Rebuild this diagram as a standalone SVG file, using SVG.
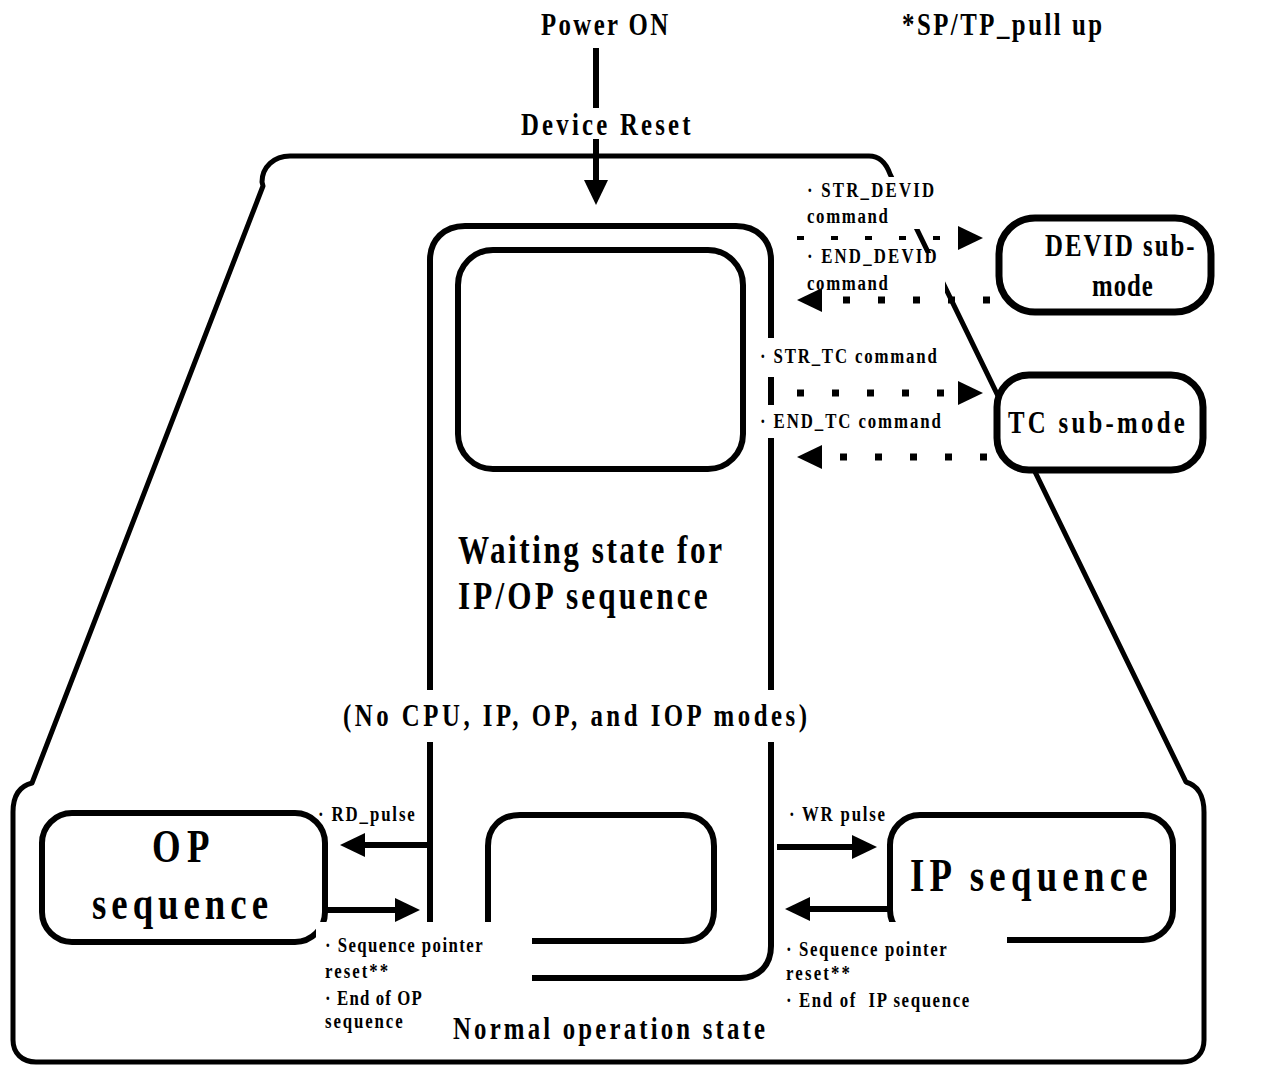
<svg xmlns="http://www.w3.org/2000/svg" xmlns:xlink="http://www.w3.org/1999/xlink" width="1261" height="1066" viewBox="0 0 1261 1066">
  <style>
    text { font-family: "Liberation Serif", "Times New Roman", serif; font-weight: bold; fill: #000; }
    .sm { font-size: 21px; }
    .md { font-size: 31px; }
    .lg { font-size: 39px; }
    .xl { font-size: 46px; }
    .edge { fill: none; stroke: #000; stroke-width: 5; stroke-linejoin: round; }
    .box { fill: #fff; stroke: #000; stroke-width: 6; }
    .sub { fill: #fff; stroke: #000; stroke-width: 7; }
    .wire { fill: none; stroke: #000; stroke-width: 6; }
    .bg { fill: #fff; stroke: none; }
    .dash { fill: none; stroke: #000; stroke-width: 7; stroke-dasharray: 7 28; }
  </style>
  <defs>
    <!-- arrowhead pointing right, tip at origin -->
    <path id="ah" d="M0,0 L-25,-12 L-25,12 Z" fill="#000"/>
  </defs>
  <rect width="1261" height="1066" fill="#fff"/>

  <!-- normal operation state outline -->
  <g id="normal-operation">
    <path class="edge" d="M 290,156 L 869,156 C 879,156 886,163 890,174 L 1186,782 C 1197,785 1204,795 1204,812 L 1204,1040 C 1204,1053 1196,1062 1182,1062 L 36,1062 C 22,1062 13,1053 13,1040 L 13,812 C 13,795 20,786 32,783 L 263,186 L 262,182 C 262,167 274,156 290,156 Z"/>
  </g>

  <!-- waiting state -->
  <g id="waiting-state">
    <path class="box" style="fill:none" d="M 430,922 L 430,260 C 430,240 444,226 465,226 L 736,226 C 757,226 771,240 771,260 L 771,946 C 771,965 759,978 740,978 L 532,978"/>
    <rect class="box" x="458" y="250" width="285" height="219" rx="35" ry="35"/>
    <path class="box" style="fill:none" d="M 488,922 L 488,846 C 488,828 500,815 520,815 L 683,815 C 702,815 714,828 714,846 L 714,910 C 714,929 702,941 683,941 L 532,941"/>
    <text class="lg" transform="translate(458 563) scale(0.8 1)" textLength="330" lengthAdjust="spacing">Waiting state for</text>
    <text class="lg" transform="translate(458 609) scale(0.8 1)" textLength="312" lengthAdjust="spacing">IP/OP sequence</text>
  </g>

  <!-- OP sequence -->
  <g id="op-sequence">
    <rect class="box" x="42" y="813" width="283" height="129" rx="30" ry="30"/>
    <text class="xl" transform="translate(152 862) scale(0.8 1)" textLength="72" lengthAdjust="spacing">OP</text>
    <text class="xl" transform="translate(92 919) scale(0.8 1)" textLength="220" lengthAdjust="spacing">sequence</text>
  </g>

  <!-- IP sequence -->
  <g id="ip-sequence">
    <rect class="box" x="890" y="815" width="283" height="125" rx="30" ry="30"/>
    <text class="xl" transform="translate(910 891) scale(0.8 1)" textLength="297" lengthAdjust="spacing">IP sequence</text>
  </g>

  <!-- label backgrounds that break the outlines -->
  <g id="label-bg">
    <rect class="bg" x="800" y="177" width="140" height="52"/>
    <rect class="bg" x="800" y="253" width="145" height="41"/>
    <rect class="bg" x="765" y="338" width="180" height="39"/>
    <rect class="bg" x="765" y="405" width="180" height="33"/>
    <rect class="bg" x="340" y="690" width="470" height="52"/>
    <rect class="bg" x="316" y="922" width="216" height="110"/>
    <rect class="bg" x="778" y="922" width="229" height="90"/>
  </g>

  <!-- DEVID sub-mode -->
  <g id="devid-submode">
    <rect class="sub" x="999" y="218" width="212" height="94" rx="36" ry="36"/>
    <text class="md" transform="translate(1045 256) scale(0.8 1)" textLength="187" lengthAdjust="spacing">DEVID sub-</text>
    <text class="md" transform="translate(1092 296) scale(0.8 1)" textLength="76" lengthAdjust="spacing">mode</text>
  </g>

  <!-- TC sub-mode -->
  <g id="tc-submode">
    <rect class="sub" x="997" y="375" width="206" height="95" rx="32" ry="32"/>
    <text class="md" transform="translate(1008 433) scale(0.8 1)" textLength="221" lengthAdjust="spacing">TC sub-mode</text>
  </g>

  <!-- connectors -->
  <g id="connectors">
    <rect x="593" y="48" width="6" height="60" fill="#000"/>
    <line class="wire" x1="596" y1="139" x2="596" y2="185"/>
    <use xlink:href="#ah" transform="translate(596 205) rotate(90)"/>

    <line class="dash" style="stroke-width:4;stroke-dasharray:7 27" x1="797" y1="238" x2="958" y2="238"/>
    <use xlink:href="#ah" transform="translate(983 238)"/>
    <line class="dash" x1="843" y1="300" x2="990" y2="300"/>
    <use xlink:href="#ah" transform="translate(797 300) rotate(180)"/>

    <line class="dash" x1="797" y1="393" x2="950" y2="393"/>
    <use xlink:href="#ah" transform="translate(983 393)"/>
    <line class="dash" x1="840" y1="457" x2="990" y2="457"/>
    <use xlink:href="#ah" transform="translate(797 457) rotate(180)"/>

    <line class="wire" x1="430" y1="845" x2="362" y2="845"/>
    <use xlink:href="#ah" transform="translate(340 845) rotate(180)"/>
    <line class="wire" x1="326" y1="910" x2="398" y2="910"/>
    <use xlink:href="#ah" transform="translate(420 910)"/>

    <line class="wire" x1="777" y1="847" x2="855" y2="847"/>
    <use xlink:href="#ah" transform="translate(877 847)"/>
    <line class="wire" x1="890" y1="909" x2="808" y2="909"/>
    <use xlink:href="#ah" transform="translate(785 909) rotate(180)"/>
  </g>

  <!-- labels -->
  <g id="labels">
    <text class="md" transform="translate(541 35) scale(0.8 1)" textLength="159" lengthAdjust="spacing">Power ON</text>
    <text class="md" transform="translate(902 35) scale(0.8 1)" textLength="250" lengthAdjust="spacing">*SP/TP_pull up</text>
    <text class="md" transform="translate(521 135) scale(0.8 1)" textLength="212" lengthAdjust="spacing">Device Reset</text>

    <text class="sm" transform="translate(807 197) scale(0.8 1)" textLength="159" lengthAdjust="spacing">· STR_DEVID</text>
    <text class="sm" transform="translate(807 223) scale(0.8 1)" textLength="101" lengthAdjust="spacing">command</text>
    <text class="sm" transform="translate(807 263) scale(0.8 1)" textLength="162" lengthAdjust="spacing">· END_DEVID</text>
    <text class="sm" transform="translate(807 290) scale(0.8 1)" textLength="101" lengthAdjust="spacing">command</text>
    <text class="sm" transform="translate(760 363) scale(0.8 1)" textLength="221" lengthAdjust="spacing">· STR_TC command</text>
    <text class="sm" transform="translate(760 428) scale(0.8 1)" textLength="226" lengthAdjust="spacing">· END_TC command</text>

    <text class="md" transform="translate(343 726) scale(0.8 1)" textLength="580" lengthAdjust="spacing">(No CPU, IP, OP, and IOP modes)</text>

    <text class="sm" transform="translate(318 821) scale(0.8 1)" textLength="121" lengthAdjust="spacing">· RD_pulse</text>
    <text class="sm" transform="translate(789 821) scale(0.8 1)" textLength="120" lengthAdjust="spacing">· WR pulse</text>

    <text class="sm" transform="translate(325 952) scale(0.8 1)" textLength="197" lengthAdjust="spacing">· Sequence pointer</text>
    <text class="sm" transform="translate(325 978) scale(0.8 1)" textLength="79" lengthAdjust="spacing">reset**</text>
    <text class="sm" transform="translate(325 1005) scale(0.8 1)" textLength="121" lengthAdjust="spacing">· End of OP</text>
    <text class="sm" transform="translate(325 1028) scale(0.8 1)" textLength="97" lengthAdjust="spacing">sequence</text>

    <text class="sm" transform="translate(786 956) scale(0.8 1)" textLength="201" lengthAdjust="spacing">· Sequence pointer</text>
    <text class="sm" transform="translate(786 980) scale(0.8 1)" textLength="80" lengthAdjust="spacing">reset**</text>
    <text class="sm" style="white-space:pre" transform="translate(786 1007) scale(0.8 1)" textLength="229" lengthAdjust="spacing">· End of  IP sequence</text>

    <text class="md" transform="translate(453 1039) scale(0.8 1)" textLength="390" lengthAdjust="spacing">Normal operation state</text>
  </g>
</svg>
